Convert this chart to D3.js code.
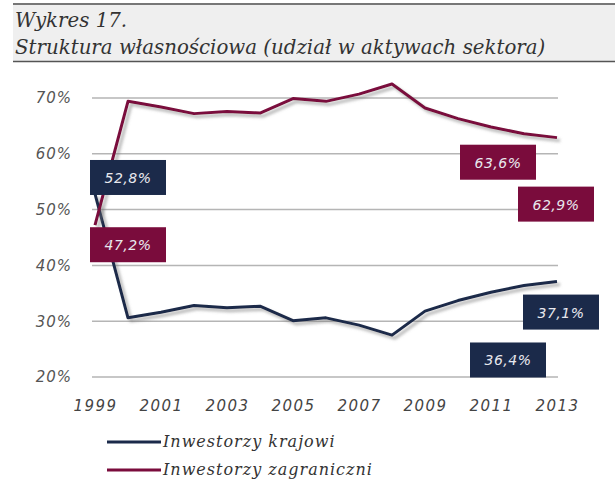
<!DOCTYPE html>
<html>
<head>
<meta charset="utf-8">
<script src="https://cdn.jsdelivr.net/npm/d3@7"></script>
<style>
  html, body { margin: 0; padding: 0; background: #fff; }
  svg { display: block; }
</style>
</head>
<body>
<svg id="chart" width="615" height="482"></svg>
<script>
// Ownership structure of the banking sector (share of sector assets)
const years = [1999, 2000, 2001, 2002, 2003, 2004, 2005, 2006, 2007, 2008, 2009, 2010, 2011, 2012, 2013];
const foreign = [47.2, 69.4, 68.4, 67.2, 67.6, 67.3, 69.9, 69.4, 70.7, 72.5, 68.2, 66.3, 64.8, 63.6, 62.9];
const domestic = [52.8, 30.6, 31.6, 32.8, 32.4, 32.7, 30.1, 30.6, 29.3, 27.5, 31.8, 33.7, 35.2, 36.4, 37.1];
const yTicks = [20, 30, 40, 50, 60, 70];
const xTicks = [1999, 2001, 2003, 2005, 2007, 2009, 2011, 2013];
const seriesNames = ["Inwestorzy krajowi", "Inwestorzy zagraniczni"];
const titleLines = ["Wykres 17.", "Struktura własnościowa (udział w aktywach sektora)"];

const navy = "#1b2a4a";
const maroon = "#7a0c3c";

const svg = d3.select("#chart");

// drop shadow under the series lines
const defs = svg.append("defs");
const f = defs.append("filter").attr("id", "shadow")
  .attr("x", "-10%").attr("y", "-10%").attr("width", "120%").attr("height", "130%");
f.append("feDropShadow").attr("dx", 3).attr("dy", 3).attr("stdDeviation", 1.5)
  .attr("flood-color", "#777").attr("flood-opacity", 0.55);

// header band
svg.append("rect").attr("x", 13).attr("y", 5).attr("width", 602).attr("height", 56).attr("fill", "#efefef");
svg.append("line").attr("x1", 13).attr("x2", 615).attr("y1", 4).attr("y2", 4)
  .attr("stroke", "#777").attr("stroke-width", 2);
svg.append("line").attr("x1", 13).attr("x2", 615).attr("y1", 61.5).attr("y2", 61.5)
  .attr("stroke", "#555").attr("stroke-width", 1.5);
svg.selectAll("text.title").data(titleLines).join("text")
  .attr("class", "title")
  .attr("x", 15).attr("y", (d, i) => 27 + i * 27)
  .attr("font-family", "DejaVu Serif").attr("font-style", "italic")
  .attr("font-size", 19.8).attr("fill", "#333")
  .text(d => d);

const x = d3.scaleLinear().domain([1999, 2013]).range([95, 557]);
const y = d3.scaleLinear().domain([20, 70]).range([377, 98]);

// horizontal gridlines
svg.append("g").selectAll("line").data(yTicks).join("line")
  .attr("x1", 92).attr("x2", 558)
  .attr("y1", d => y(d)).attr("y2", d => y(d))
  .attr("stroke", "#b5b5b5").attr("stroke-width", 1.5);

// y axis labels
const yAxis = d3.axisLeft(y).tickValues(yTicks).tickSize(0).tickPadding(0)
  .tickFormat(d => d + "%");
svg.append("g").attr("transform", "translate(72,0)").call(yAxis)
  .call(g => g.select(".domain").remove())
  .selectAll("text")
  .attr("font-family", "DejaVu Sans").attr("font-style", "italic")
  .attr("font-size", 15).attr("fill", "#555").attr("letter-spacing", 1);

// x axis labels
const xAxis = d3.axisBottom(x).tickValues(xTicks).tickSize(0).tickPadding(0)
  .tickFormat(d3.format("d"));
svg.append("g").attr("transform", "translate(0,400)").call(xAxis)
  .call(g => g.select(".domain").remove())
  .selectAll("text")
  .attr("font-family", "DejaVu Sans").attr("font-style", "italic")
  .attr("font-size", 15).attr("fill", "#444").attr("letter-spacing", 1.5);

// series lines
const line = d3.line().x((d, i) => x(years[i])).y(d => y(d));
svg.append("path").datum(domestic).attr("d", line)
  .attr("fill", "none").attr("stroke", navy).attr("stroke-width", 3)
  .attr("stroke-linejoin", "round").attr("filter", "url(#shadow)");
svg.append("path").datum(foreign).attr("d", line)
  .attr("fill", "none").attr("stroke", maroon).attr("stroke-width", 3)
  .attr("stroke-linejoin", "round").attr("filter", "url(#shadow)");

// value labels
const fmt = v => d3.format(".1f")(v).replace(".", ",") + "%";
const n = years.length;
const labels = [
  { year: years[0], value: domestic[0], color: navy, dx: -5, dy: -34 },
  { year: years[0], value: foreign[0], color: maroon, dx: -5, dy: 2 },
  { year: years[n - 2], value: foreign[n - 2], color: maroon, dx: -64, dy: 11 },
  { year: years[n - 1], value: foreign[n - 1], color: maroon, dx: -39, dy: 49 },
  { year: years[n - 1], value: domestic[n - 1], color: navy, dx: -34, dy: 13 },
  { year: years[n - 2], value: domestic[n - 2], color: navy, dx: -54, dy: 57 }
];
const lg = svg.append("g").selectAll("g").data(labels).join("g")
  .attr("transform", d => `translate(${x(d.year) + d.dx},${y(d.value) + d.dy})`);
lg.append("rect").attr("width", 76).attr("height", 35).attr("fill", d => d.color);
lg.append("text").attr("x", 38).attr("y", 23).attr("text-anchor", "middle")
  .attr("font-family", "DejaVu Sans").attr("font-style", "italic")
  .attr("font-size", 14).attr("fill", "#e8e8ee").attr("letter-spacing", 0.5)
  .text(d => fmt(d.value));

// legend
const legend = svg.append("g").selectAll("g").data(seriesNames).join("g")
  .attr("transform", (d, i) => `translate(107,${442 + i * 28})`);
legend.append("line").attr("x1", 0).attr("x2", 54).attr("y1", 0).attr("y2", 0)
  .attr("stroke", (d, i) => i === 0 ? navy : maroon).attr("stroke-width", 3);
legend.append("text").attr("x", 56).attr("y", 5)
  .attr("font-family", "DejaVu Serif").attr("font-style", "italic")
  .attr("font-size", 16).attr("fill", "#333").attr("letter-spacing", 1)
  .text(d => d);
</script>
</body>
</html>
